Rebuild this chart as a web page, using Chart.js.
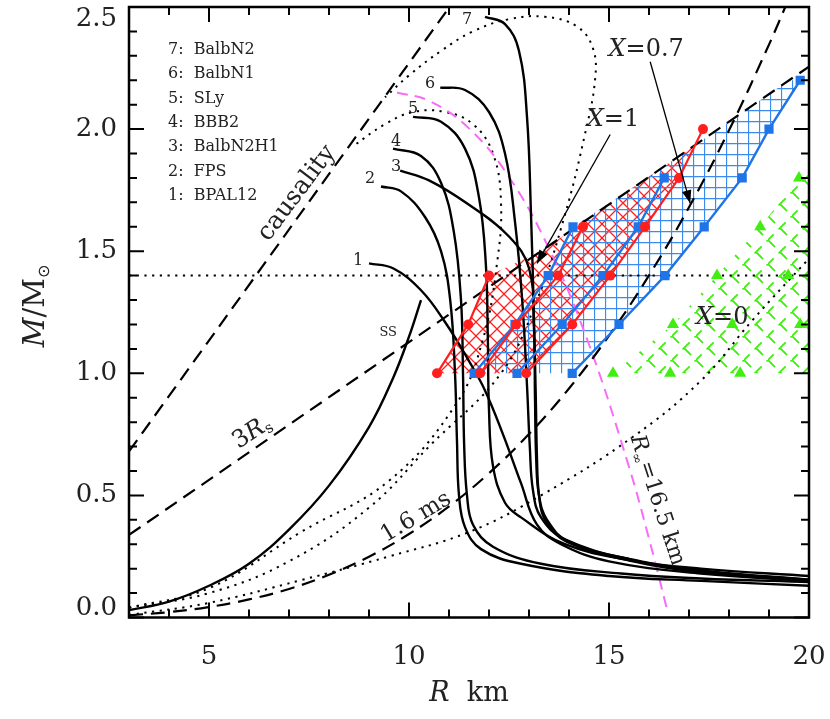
<!DOCTYPE html>
<html>
<head>
<meta charset="utf-8">
<script src="https://cdn.jsdelivr.net/npm/chart.js@4.4.0/dist/chart.umd.min.js"></script>
<style>html,body{margin:0;padding:0;background:#fff}</style>
</head>
<body>
<canvas id="myChart" width="830" height="719"></canvas>
<script>
// ticks
const xTicks = [5, 10, 15, 20];
const yTicks = [0, 0.5, 1, 1.5, 2, 2.5];
const xMinor = [4, 6, 7, 8, 9, 11, 12, 13, 14, 16, 17, 18, 19];
const yMinor = [0.1, 0.2, 0.3, 0.4, 0.6, 0.7, 0.8, 0.9, 1.1, 1.2, 1.3, 1.4, 1.6, 1.7, 1.8, 1.9, 2.1, 2.2, 2.3, 2.4];

const eosNames = ['BPAL12', 'FPS', 'BalbN2H1', 'BBB2', 'SLy', 'BalbN1', 'BalbN2'];

// mass-radius curves, R in km, M in solar masses
const eos1R = [9.0, 9.6, 10.3, 10.9, 11.5, 11.9, 12.35, 12.8, 13.2, 13.8, 15, 17.3, 20];
const eos1M = [1.45, 1.43, 1.34, 1.21, 1.05, 0.93, 0.75, 0.55, 0.38, 0.3, 0.23, 0.18, 0.15];
const eos2R = [9.3, 9.8, 10.4, 10.8, 11.03, 11.15, 11.2, 11.25, 11.4, 11.8, 12.8, 15, 17.3, 20];
const eos2M = [1.765, 1.745, 1.64, 1.5, 1.3, 1.0, 0.72, 0.5, 0.37, 0.28, 0.22, 0.17, 0.15, 0.13];
const eos3R = [9.78, 10.5, 11.5, 12.5, 13.0, 13.12, 13.15, 13.18, 13.25, 13.45, 14.0, 15.8, 17.5, 20];
const eos3M = [1.83, 1.79, 1.69, 1.56, 1.43, 1.2, 0.9, 0.65, 0.5, 0.4, 0.31, 0.23, 0.19, 0.155];
const eos4R = [9.6, 10.3, 10.8, 11.12, 11.3, 11.35, 11.38, 11.45, 11.6, 12.1, 13.3, 15.3, 17.3, 20];
const eos4M = [1.92, 1.89, 1.78, 1.58, 1.3, 1.0, 0.7, 0.5, 0.38, 0.29, 0.22, 0.18, 0.16, 0.145];
const eos5R = [10.1, 10.8, 11.4, 11.75, 11.92, 11.97, 12.0, 12.1, 12.4, 12.8, 13.9, 15.5, 17.3, 20];
const eos5M = [2.05, 2.03, 1.92, 1.72, 1.45, 1.15, 0.85, 0.62, 0.47, 0.41, 0.3, 0.235, 0.2, 0.17];
const eos6R = [10.78, 11.4, 12.0, 12.4, 12.65, 12.83, 12.95, 13.02, 13.1, 13.3, 13.9, 15.6, 17.3, 20];
const eos6M = [2.17, 2.16, 2.07, 1.9, 1.62, 1.3, 0.95, 0.7, 0.52, 0.41, 0.32, 0.235, 0.19, 0.155];
const eos7R = [11.9, 12.4, 12.75, 12.95, 13.05, 13.12, 13.17, 13.2, 13.25, 13.4, 13.95, 15.6, 17.3, 20];
const eos7M = [2.46, 2.43, 2.32, 2.05, 1.65, 1.25, 0.9, 0.65, 0.5, 0.4, 0.31, 0.23, 0.185, 0.15];

// strange star curves
const ssSolidR = [3, 4, 5, 6, 7, 8, 9, 9.6, 10.0, 10.3];
const ssSolidM = [0.03, 0.065, 0.13, 0.22, 0.36, 0.54, 0.78, 0.98, 1.15, 1.3];
const ssBigR = [3, 5, 7, 9, 10.5, 12.3, 13.2, 13.9, 14.4, 14.65, 14.6, 14.2, 13.4, 12.5, 11.6, 10.8, 10.0, 9.4];
const ssBigM = [0.04, 0.1, 0.23, 0.45, 0.7, 1.0, 1.3, 1.65, 1.98, 2.2, 2.33, 2.42, 2.46, 2.45, 2.4, 2.32, 2.22, 2.13];
const ssSmallR = [3, 5, 7.3, 9.5, 11.2, 11.85, 12.2, 12.3, 12.1, 11.6, 10.9, 10.1, 9.4, 8.6];
const ssSmallM = [0.04, 0.12, 0.35, 0.56, 0.88, 1.14, 1.45, 1.7, 1.9, 2.02, 2.07, 2.07, 2.02, 1.93];
const lowDotR = [3, 5, 7.3, 9.5, 11.5, 13.3, 15.6, 17.3, 18.6, 20];
const lowDotM = [0.01, 0.06, 0.153, 0.25, 0.35, 0.5, 0.74, 0.97, 1.22, 1.47];

// limits
const causalR = [3, 11.1];
const causalM = [0.68, 2.52];
const rs3R = [3, 20];
const rs3M = [0.338, 2.256];
const spinR = [3, 4, 5, 6, 7, 8, 9, 10, 11, 12, 13, 14, 15, 16, 17, 18, 19, 19.5];
const spinM = [0.009, 0.022, 0.043, 0.074, 0.117, 0.175, 0.249, 0.342, 0.455, 0.591, 0.751, 0.938, 1.154, 1.401, 1.68, 1.995, 2.346, 2.536];
const rinfR = [9.7, 10.5, 11.5, 12.5, 13.5, 14.5, 15.5, 16.0, 16.45];
const rinfM = [2.15, 2.116, 2.003, 1.804, 1.511, 1.118, 0.617, 0.323, 0.034];
const m14R = [3, 20];
const m14M = [1.4, 1.4];

// X = 1 (red), X = 0.7 (blue), X = 0 (green) sequences
const red1R = [10.7, 11.48, 12.0];
const red1M = [1.0, 1.2, 1.4];
const red2R = [11.78, 12.68, 13.73, 14.35];
const red2M = [1.0, 1.2, 1.4, 1.6];
const red3R = [12.93, 14.08, 15.03, 15.9, 16.75, 17.35];
const red3M = [1.0, 1.2, 1.4, 1.6, 1.8, 2.0];
const blue1R = [11.63, 12.65, 13.48, 14.1];
const blue1M = [1.0, 1.2, 1.4, 1.6];
const blue2R = [12.7, 13.83, 14.85, 15.73, 16.38];
const blue2M = [1.0, 1.2, 1.4, 1.6, 1.8];
const blue3R = [14.08, 15.25, 16.4, 17.38, 18.33, 19.0, 19.78];
const blue3M = [1.0, 1.2, 1.4, 1.6, 1.8, 2.0, 2.2];
const green1R = [15.1, 16.6, 17.7, 18.78, 19.75];
const green1M = [1.0, 1.2, 1.4, 1.6, 1.8];
const green2R = [16.53, 18.08, 19.48];
const green2M = [1.0, 1.2, 1.4];
const green3R = [18.28, 19.78];
const green3M = [1.0, 1.2];

// hatched areas
const redAreaR = [10.7, 11.48, 12.0, 13.3, 15.5, 17.1, 16.75, 15.9, 15.03, 14.08, 12.93];
const redAreaM = [1.0, 1.2, 1.4, 1.5, 1.75, 1.93, 1.8, 1.6, 1.4, 1.2, 1.0];
const blueAreaR = [11.63, 12.65, 13.48, 14.1, 16, 18, 19.5, 19.78, 19.0, 18.33, 17.38, 16.4, 15.25, 14.08];
const blueAreaM = [1.0, 1.2, 1.4, 1.6, 1.805, 2.03, 2.2, 2.2, 2.0, 1.8, 1.6, 1.4, 1.2, 1.0];
const greenAreaR = [15.1, 16.6, 17.7, 18.78, 19.75, 20, 20];
const greenAreaM = [1.0, 1.2, 1.4, 1.6, 1.8, 1.86, 1.0];

const RED = '#ff1f1f';
const BLUE = '#1f74e8';
const GREEN = '#40ee10';
const MAGENTA = '#f86cf8';

const pts = (r, m) => r.map((v, i) => ({ x: v, y: m[i] }));

function hatch(kind, color) {
  const c = document.createElement('canvas');
  const s = kind === 'grid' ? 11 : (kind === 'cross' ? 14 : 24);
  c.width = s; c.height = s;
  const g = c.getContext('2d');
  g.strokeStyle = color;
  g.lineWidth = 1.3;
  if (kind === 'grid') {
    g.beginPath();
    g.moveTo(0.5, 0); g.lineTo(0.5, s);
    g.moveTo(0, 0.5); g.lineTo(s, 0.5);
    g.stroke();
  } else if (kind === 'cross') {
    g.beginPath();
    g.moveTo(-1, -1); g.lineTo(s + 1, s + 1);
    g.moveTo(s + 1, -1); g.lineTo(-1, s + 1);
    g.stroke();
  } else {
    g.lineWidth = 1.8;
    g.setLineDash([10, 6.97]);
    g.beginPath(); g.moveTo(0, 0); g.lineTo(s, s); g.stroke();
    g.lineDashOffset = 8;
    g.beginPath(); g.moveTo(s, 0); g.lineTo(0, s); g.stroke();
  }
  return g.createPattern(c, 'repeat');
}

const curve = (r, m, extra) => Object.assign({
  data: pts(r, m), showLine: true, pointRadius: 0, borderColor: '#000',
  borderWidth: 2.4, tension: 0.4, fill: false, order: 1
}, extra);

const DASH = [14, 8];
const DOT = [2.2, 5.5];

const datasets = [
  // hatched areas (drawn first)
  { data: pts(redAreaR, redAreaM), showLine: true, borderWidth: 0, pointRadius: 0, fill: 'shape', backgroundColor: hatch('cross', RED), order: 9 },
  { data: pts(blueAreaR, blueAreaM), showLine: true, borderWidth: 0, pointRadius: 0, fill: 'shape', backgroundColor: hatch('grid', '#3a8af0'), order: 8 },
  { data: pts(greenAreaR, greenAreaM), showLine: true, borderWidth: 0, pointRadius: 0, fill: 'shape', backgroundColor: hatch('dash', GREEN), order: 8 },
  // guide lines
  curve(m14R, m14M, { borderDash: DOT, borderWidth: 2, tension: 0, order: 5 }),
  curve(causalR, causalM, { borderDash: DASH, borderWidth: 2.2, tension: 0, order: 5 }),
  curve(rs3R, rs3M, { borderDash: DASH, borderWidth: 2.2, tension: 0, order: 5 }),
  curve(spinR, spinM, { borderDash: DASH, borderWidth: 2.2, order: 5 }),
  curve(rinfR, rinfM, { borderDash: [11, 7], borderColor: MAGENTA, borderWidth: 2, order: 5 }),
  curve(ssBigR, ssBigM, { borderDash: DOT, borderWidth: 2, order: 5 }),
  curve(ssSmallR, ssSmallM, { borderDash: DOT, borderWidth: 2, order: 5 }),
  curve(lowDotR, lowDotM, { borderDash: DOT, borderWidth: 2, order: 5 }),
  curve(ssSolidR, ssSolidM, { order: 4 }),
  // EOS curves
  curve(eos1R, eos1M), curve(eos2R, eos2M), curve(eos3R, eos3M), curve(eos4R, eos4M),
  curve(eos5R, eos5M), curve(eos6R, eos6M), curve(eos7R, eos7M),
  // sequences with markers
  curve(red1R, red1M, { borderColor: RED, borderWidth: 2.2, tension: 0, pointRadius: 5, pointBackgroundColor: RED, pointBorderWidth: 0, order: 0 }),
  curve(red2R, red2M, { borderColor: RED, borderWidth: 2.2, tension: 0, pointRadius: 5, pointBackgroundColor: RED, pointBorderWidth: 0, order: 0 }),
  curve(red3R, red3M, { borderColor: RED, borderWidth: 2.2, tension: 0, pointRadius: 5, pointBackgroundColor: RED, pointBorderWidth: 0, order: 0 }),
  curve(blue1R, blue1M, { borderColor: BLUE, borderWidth: 2.4, tension: 0, pointStyle: 'rect', pointRadius: 6.5, pointBackgroundColor: BLUE, pointBorderWidth: 0, order: 0 }),
  curve(blue2R, blue2M, { borderColor: BLUE, borderWidth: 2.4, tension: 0, pointStyle: 'rect', pointRadius: 6.5, pointBackgroundColor: BLUE, pointBorderWidth: 0, order: 0 }),
  curve(blue3R, blue3M, { borderColor: BLUE, borderWidth: 2.4, tension: 0, pointStyle: 'rect', pointRadius: 6.5, pointBackgroundColor: BLUE, pointBorderWidth: 0, order: 0 }),
  curve(green1R, green1M, { showLine: false, pointStyle: 'triangle', pointRadius: 7, pointBackgroundColor: GREEN, pointBorderWidth: 0, order: 0 }),
  curve(green2R, green2M, { showLine: false, pointStyle: 'triangle', pointRadius: 7, pointBackgroundColor: GREEN, pointBorderWidth: 0, order: 0 }),
  curve(green3R, green3M, { showLine: false, pointStyle: 'triangle', pointRadius: 7, pointBackgroundColor: GREEN, pointBorderWidth: 0, order: 0 })
];

// text placed in data coordinates
const curveLabels = [
  ['1', 8.73, 1.459], ['2', 9.03, 1.798], ['3', 9.68, 1.847], ['4', 9.68, 1.949],
  ['5', 10.1, 2.084], ['6', 10.53, 2.186], ['7', 11.45, 2.448], ['SS', 9.48, 1.165]
];
const arrows = [
  [15.03, 1.978, 13.2, 1.45],
  [16.03, 2.276, 17.03, 1.696]
];

const SERIF = '"DejaVu Serif", "Liberation Serif", serif';

function rich(ctx, parts, x, y, align) {
  let w = 0;
  parts.forEach(p => { ctx.font = p[1]; w += ctx.measureText(p[0]).width; });
  let cx = align === 'center' ? x - w / 2 : (align === 'right' ? x - w : x);
  ctx.textAlign = 'left';
  parts.forEach(p => {
    ctx.font = p[1];
    ctx.fillText(p[0], cx, y + (p[2] || 0));
    cx += ctx.measureText(p[0]).width;
  });
}

const decor = {
  id: 'decor',
  afterDraw(chart) {
    const { ctx, chartArea: a, scales: { x, y } } = chart;
    ctx.save();
    // frame and inner ticks
    ctx.strokeStyle = '#000';
    ctx.lineWidth = 2.5;
    ctx.strokeRect(a.left, a.top, a.right - a.left, a.bottom - a.top);
    ctx.lineWidth = 2;
    ctx.beginPath();
    xTicks.concat(xMinor).forEach(v => {
      const px = x.getPixelForValue(v);
      const L = xTicks.includes(v) ? 15 : 8;
      ctx.moveTo(px, a.bottom); ctx.lineTo(px, a.bottom - L);
      ctx.moveTo(px, a.top); ctx.lineTo(px, a.top + L);
    });
    yTicks.concat(yMinor).forEach(v => {
      const py = y.getPixelForValue(v);
      const L = yTicks.includes(v) ? 15 : 8;
      ctx.moveTo(a.left, py); ctx.lineTo(a.left + L, py);
      ctx.moveTo(a.right, py); ctx.lineTo(a.right - L, py);
    });
    ctx.stroke();

    ctx.fillStyle = '#222';
    ctx.textBaseline = 'middle';
    // tick labels
    ctx.font = '26px ' + SERIF;
    ctx.textAlign = 'right';
    yTicks.forEach(v => {
      let py = y.getPixelForValue(v);
      if (v === 2.5) py += 12;
      if (v === 0) py -= 9;
      ctx.fillText(v.toFixed(1), a.left - 12, py);
    });
    ctx.textAlign = 'center';
    xTicks.forEach(v => ctx.fillText(String(v), x.getPixelForValue(v), a.bottom + 40));
    // axis titles
    rich(ctx, [['R', 'italic 27px ' + SERIF], ['  km', '27px ' + SERIF]], (a.left + a.right) / 2, 694, 'center');
    ctx.save();
    ctx.translate(36, 306);
    ctx.rotate(-Math.PI / 2);
    rich(ctx, [['M', 'italic 29px ' + SERIF], ['/M', '29px ' + SERIF], ['\u2299', '16px "DejaVu Sans"', 9]], 0, 0, 'center');
    ctx.restore();

    // legend of EOS names
    ctx.font = '16px ' + SERIF;
    ctx.textAlign = 'left';
    eosNames.forEach((n, i) => {
      ctx.fillText((i + 1) + ':  ' + n, 168, 196 - i * 24.4);
    });
    ctx.textAlign = 'center';
    curveLabels.forEach(l => {
      ctx.font = (l[0] === 'SS' ? '13px ' : '16px ') + SERIF;
      ctx.fillText(l[0], x.getPixelForValue(l[1]), y.getPixelForValue(l[2]));
    });

    // rotated labels
    const rot = (r, m, ang, fn) => {
      ctx.save();
      ctx.translate(x.getPixelForValue(r), y.getPixelForValue(m));
      ctx.rotate(ang * Math.PI / 180);
      fn();
      ctx.restore();
    };
    rot(7.2, 1.737, -53, () => rich(ctx, [['causality', '25px ' + SERIF]], 0, 0, 'center'));
    rot(6.08, 0.757, -33, () => rich(ctx, [['3', '24px ' + SERIF], ['R', 'italic 24px ' + SERIF], ['s', '15px ' + SERIF, 6]], 0, 0, 'center'));
    rot(10.18, 0.41, -31, () => rich(ctx, [['1.6 ms', '23px ' + SERIF]], 0, 0, 'center'));
    rot(16.2, 0.48, 72, () => rich(ctx, [['R', 'italic 22px ' + SERIF], ['\u221e', '13px ' + SERIF, 7], ['=16.5 km', '22px ' + SERIF]], 0, 0, 'center'));

    rich(ctx, [['X', 'italic 24px ' + SERIF], ['=1', '24px ' + SERIF]], x.getPixelForValue(15.1), y.getPixelForValue(2.04), 'center');
    rich(ctx, [['X', 'italic 24px ' + SERIF], ['=0.7', '24px ' + SERIF]], x.getPixelForValue(15.93), y.getPixelForValue(2.325), 'center');
    rich(ctx, [['X', 'italic 24px ' + SERIF], ['=0', '24px ' + SERIF]], x.getPixelForValue(17.83), y.getPixelForValue(1.227), 'center');

    // arrows
    ctx.strokeStyle = '#000';
    ctx.fillStyle = '#000';
    ctx.lineWidth = 1.3;
    arrows.forEach(ar => {
      const x0 = x.getPixelForValue(ar[0]), y0 = y.getPixelForValue(ar[1]);
      const x1 = x.getPixelForValue(ar[2]), y1 = y.getPixelForValue(ar[3]);
      const t = Math.atan2(y1 - y0, x1 - x0);
      ctx.beginPath(); ctx.moveTo(x0, y0); ctx.lineTo(x1, y1); ctx.stroke();
      ctx.beginPath();
      ctx.moveTo(x1, y1);
      ctx.lineTo(x1 - 14 * Math.cos(t - 0.35), y1 - 14 * Math.sin(t - 0.35));
      ctx.lineTo(x1 - 14 * Math.cos(t + 0.35), y1 - 14 * Math.sin(t + 0.35));
      ctx.closePath(); ctx.fill();
    });
    ctx.restore();
  }
};

const myChart = new Chart(document.getElementById('myChart'), {
  type: 'scatter',
  data: { datasets: datasets },
  options: {
    responsive: false,
    animation: false,
    events: [],
    layout: { padding: { left: 0, top: 5.5, right: 21, bottom: 0 } },
    plugins: { legend: { display: false }, tooltip: { enabled: false } },
    scales: {
      x: {
        type: 'linear', min: 3, max: 20,
        grid: { display: false, drawTicks: false }, border: { display: false },
        afterBuildTicks: s => { s.ticks = xTicks.map(v => ({ value: v })); },
        afterFit: s => { s.height = 101.5; },
        ticks: { display: false }
      },
      y: {
        type: 'linear', min: 0, max: 2.5,
        grid: { display: false, drawTicks: false }, border: { display: false },
        afterBuildTicks: s => { s.ticks = yTicks.map(v => ({ value: v })); },
        afterFit: s => { s.width = 129; },
        ticks: { display: false }
      }
    }
  },
  plugins: [decor]
});
</script>
</body>
</html>
